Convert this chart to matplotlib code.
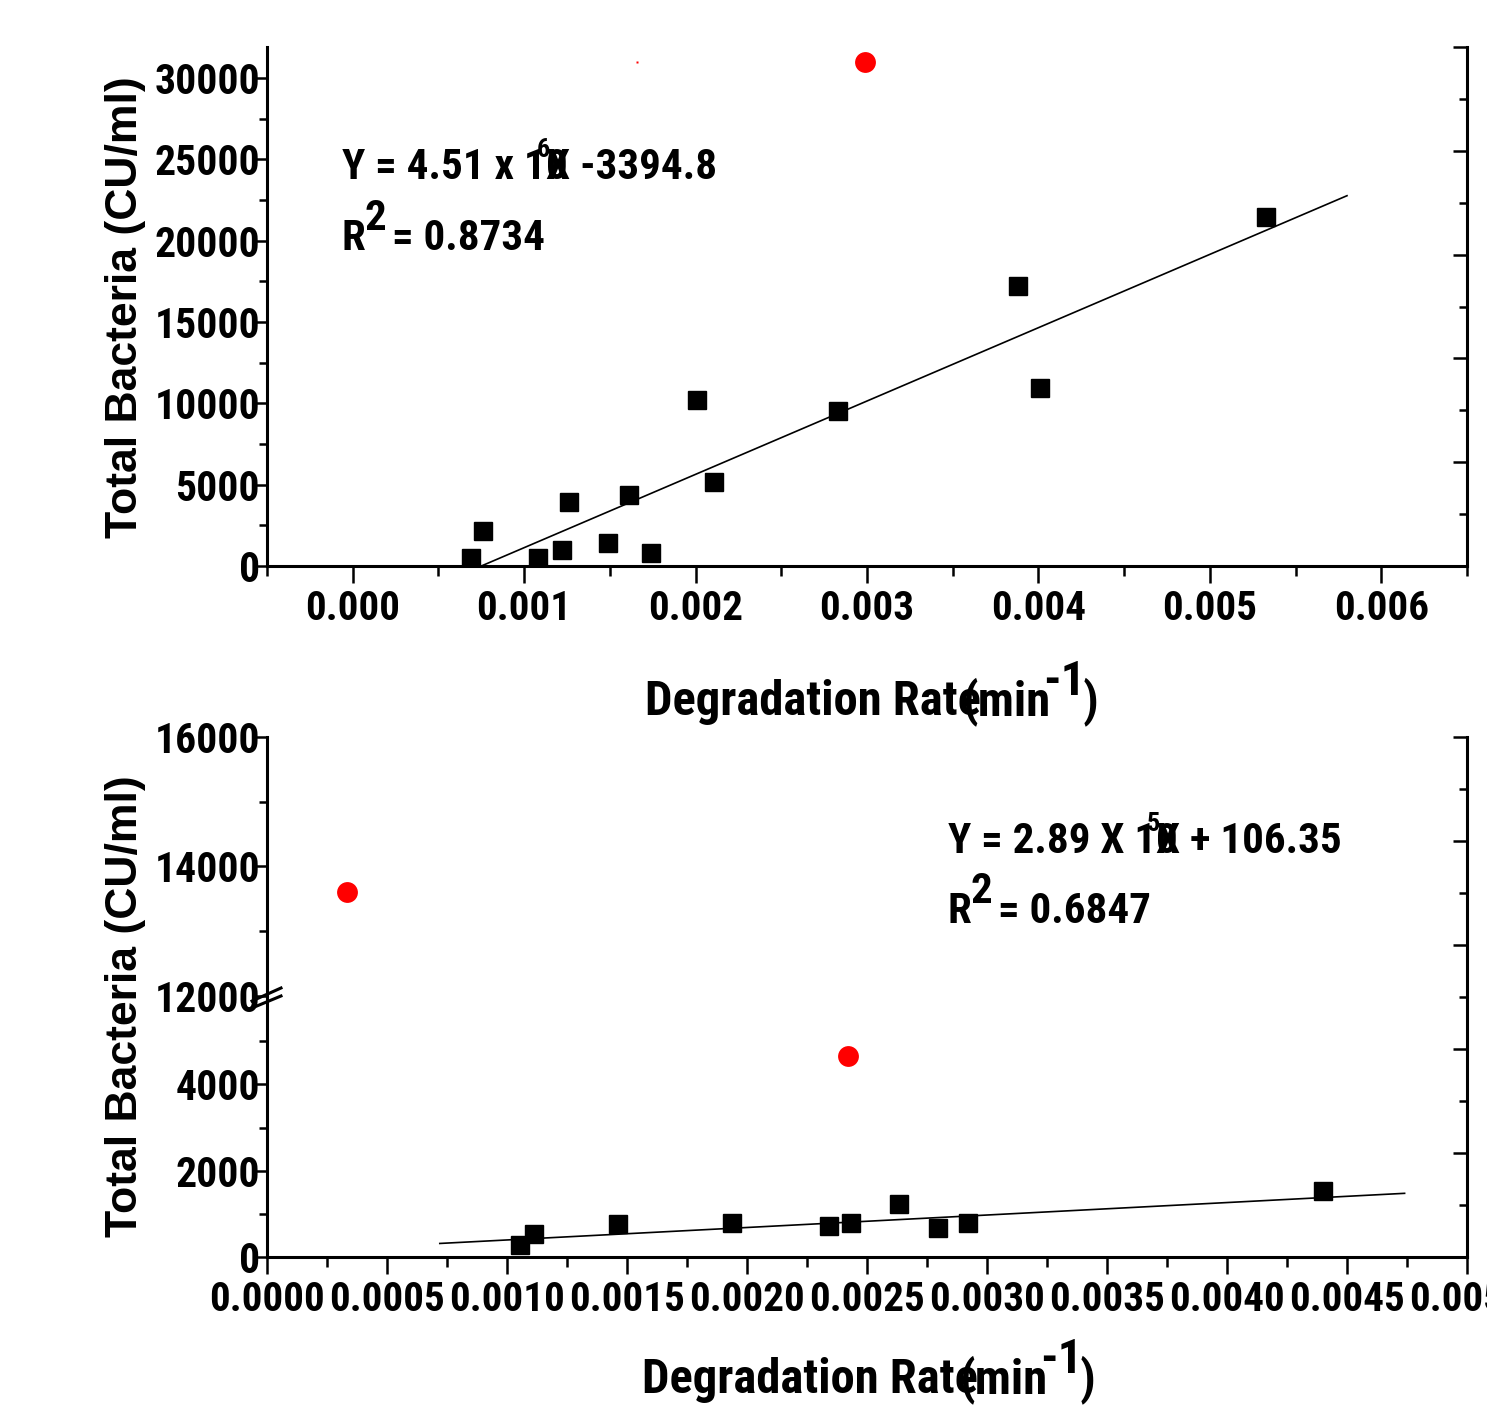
import matplotlib
matplotlib.use('Agg')
import matplotlib.pyplot as plt
from matplotlib.ticker import MultipleLocator, FixedLocator, NullFormatter
from matplotlib.lines import Line2D

W, H = 1487, 1411
DPI = 100
NARROW = ['Roboto Condensed', 'DejaVu Sans']
WIDE = ['Liberation Sans', 'DejaVu Sans']

plt.rcParams['font.family'] = NARROW
plt.rcParams['font.weight'] = 'bold'

# ---------------- data: top panel ----------------
top_x = [0.00069, 0.00076, 0.00108, 0.00122, 0.00126, 0.00149, 0.00161,
         0.00174, 0.00201, 0.00211, 0.00283, 0.00388, 0.00401, 0.00533]
top_y = [490, 2150, 490, 980, 3930, 1410, 4360,
         800, 10200, 5160, 9530, 17210, 10940, 21450]
top_out_x = [0.00299]
top_out_y = [30980]
top_spot_x = [0.00166]
top_spot_y = [30980]
top_fit_x = [0.00075, 0.0058]
top_fit_y = [0, 22760]
top_xticks = [0.000, 0.001, 0.002, 0.003, 0.004, 0.005, 0.006]
top_xlabels = ['0.000', '0.001', '0.002', '0.003', '0.004', '0.005', '0.006']
top_yticks = [0, 5000, 10000, 15000, 20000, 25000, 30000]

# ---------------- data: bottom panel ----------------
bot_x = [0.001054, 0.001113, 0.001463, 0.001938, 0.002342, 0.002433,
         0.002633, 0.002796, 0.002921, 0.00440]
bot_y = [280, 535, 765, 790, 720, 790, 1230, 675, 790, 1535]
bot_out_hi_x = [0.000333]
bot_out_hi_y = [13600]
bot_out_lo_x = [0.00242]
bot_out_lo_y = [4670]
bot_fit_x = [0.00072, 0.00474]
bot_fit_y = [314, 1476]
bot_xticks = [0.0000, 0.0005, 0.0010, 0.0015, 0.0020, 0.0025,
              0.0030, 0.0035, 0.0040, 0.0045, 0.0050]
bot_xlabels = ['0.0000', '0.0005', '0.0010', '0.0015', '0.0020', '0.0025',
               '0.0030', '0.0035', '0.0040', '0.0045', '0.0050']
bot_yticks_hi = [12000, 14000, 16000]
bot_yticks_lo = [0, 2000, 4000]

fig = plt.figure(figsize=(W / DPI, H / DPI), dpi=DPI)
renderer = fig.canvas.get_renderer()


def rect(x0, y0, x1, y1):
    return [x0 / W, 1 - y1 / H, (x1 - x0) / W, (y1 - y0) / H]


LW = 2.2
XTS = 29.5
YTS = 30
TS = 31


def base_style(ax):
    ax.set_facecolor('none')
    for s in ('top', 'right'):
        ax.spines[s].set_visible(False)
    for s in ('left', 'bottom'):
        ax.spines[s].set_linewidth(LW)
    ax.tick_params(axis='x', which='major', direction='out', length=12,
                   width=1.8, pad=5, labelsize=XTS)
    ax.tick_params(axis='x', which='minor', direction='out', length=7,
                   width=1.8)
    ax.tick_params(axis='y', which='major', direction='out', length=10,
                   width=1.8, pad=-5, labelsize=YTS)
    ax.tick_params(axis='y', which='minor', direction='out', length=6,
                   width=1.8)


def right_overlay(r):
    a = fig.add_axes(r)
    a.set_facecolor('none')
    for s in ('top', 'left', 'bottom'):
        a.spines[s].set_visible(False)
    a.spines['right'].set_linewidth(LW)
    a.set_xticks([])
    a.set_ylim(0, 10)
    a.yaxis.tick_right()
    a.yaxis.set_major_locator(MultipleLocator(2))
    a.yaxis.set_minor_locator(MultipleLocator(1))
    a.yaxis.set_major_formatter(NullFormatter())
    a.tick_params(axis='y', which='major', direction='in', length=10, width=1.8)
    a.tick_params(axis='y', which='minor', direction='in', length=6, width=1.8)
    return a


# ---------------- top panel ----------------
ax1 = fig.add_axes(rect(267, 47, 1467, 566))
base_style(ax1)
ax1.set_xlim(-0.0005, 0.0065)
ax1.set_ylim(0, 31900)
ax1.set_xticks(top_xticks)
ax1.set_xticklabels(top_xlabels)
ax1.xaxis.set_minor_locator(MultipleLocator(0.0005))
ax1.set_yticks(top_yticks)
ax1.set_yticklabels([str(v) for v in top_yticks])
ax1.yaxis.set_minor_locator(MultipleLocator(2500))
ax1.plot(top_fit_x, top_fit_y, color='black', lw=1.2, zorder=2)
ax1.plot(top_x, top_y, 's', color='black', ms=13.5, zorder=3)
ax1.plot(top_out_x, top_out_y, 'o', color='#ff0000', ms=15, mec='none',
         zorder=3, clip_on=False)
ax1.plot(top_spot_x, top_spot_y, 's', color='#ff0000', ms=2, mec='none',
         zorder=3, clip_on=False)
right_overlay(rect(267, 47, 1467, 566))

# ---------------- bottom panel (broken y axis) ----------------
ax_hi = fig.add_axes(rect(267, 737, 1467, 996))
ax_lo = fig.add_axes(rect(267, 996, 1467, 1257))
for a in (ax_hi, ax_lo):
    base_style(a)
    a.set_xlim(0, 0.005)
ax_hi.spines['bottom'].set_visible(False)
ax_hi.tick_params(axis='x', which='both', bottom=False, labelbottom=False)
ax_hi.set_ylim(12000, 16000)
ax_hi.yaxis.set_major_locator(FixedLocator(bot_yticks_hi))
ax_hi.set_yticklabels([str(v) for v in bot_yticks_hi])
ax_hi.yaxis.set_minor_locator(FixedLocator([13000, 15000]))

ax_lo.set_ylim(0, 6050)
ax_lo.yaxis.set_major_locator(FixedLocator(bot_yticks_lo))
ax_lo.set_yticklabels([str(v) for v in bot_yticks_lo])
ax_lo.yaxis.set_minor_locator(FixedLocator([1000, 3000, 5000]))
ax_lo.set_xticks(bot_xticks)
ax_lo.set_xticklabels(bot_xlabels)
ax_lo.xaxis.set_minor_locator(MultipleLocator(0.00025))

ax_lo.plot(bot_fit_x, bot_fit_y, color='black', lw=1.2, zorder=2)
ax_lo.plot(bot_x, bot_y, 's', color='black', ms=13.5, zorder=3)
ax_lo.plot(bot_out_lo_x, bot_out_lo_y, 'o', color='#ff0000', ms=15,
           mec='none', zorder=3)
ax_hi.plot(bot_out_hi_x, bot_out_hi_y, 'o', color='#ff0000', ms=15,
           mec='none', zorder=3)
right_overlay(rect(267, 737, 1467, 1257))

# break marks on the left spine
for (x0, y0, x1, y1) in [(252, 1001, 281, 988), (252, 1008, 281, 996)]:
    fig.add_artist(Line2D([x0 / W, x1 / W], [1 - y0 / H, 1 - y1 / H],
                          transform=fig.transFigure, color='black', lw=2.2))


# ---------------- text ----------------
def ptext(px, py, s, size=TS, family=NARROW, **kw):
    return fig.text(px / W, 1 - py / H, s, fontsize=size, family=family,
                    fontweight='bold', ha='left', va='baseline', **kw)


def right_px(t):
    return t.get_window_extent(renderer=renderer).x1


def equation(px, py, head, tail, sup):
    t = ptext(px, py, head)
    xe = right_px(t)
    ptext(xe, py, '0')
    ptext(xe, py, tail)
    ptext(xe - 9, py - 22, sup, size=19)


def rsq(px, py, value):
    t = ptext(px, py, 'R')
    xe = right_px(t)
    t2 = ptext(xe - 1, py - 20, '2')
    xe2 = right_px(t2)
    ptext(xe2 + 6, py, '= ' + value)


equation(342, 179, 'Y = 4.51 x 1', 'X -3394.8', '6')
rsq(342, 250, '0.8734')
equation(948, 853, 'Y = 2.89 X 1', 'X + 106.35', '5')
rsq(948, 923, '0.6847')


def xlabel(px, py):
    ptext(px, py, 'Degradation Rate', size=35)
    ptext(px + 317, py, '(min', size=35)
    ptext(px + 398, py - 20, '-1', size=35)
    ptext(px + 438, py, ')', size=35)


xlabel(645, 715)
xlabel(642, 1393)

for cy in (307, 1006):
    fig.text(125 / W, 1 - cy / H, 'Total Bacteria (CU/ml)', rotation=90,
             fontsize=32, family=WIDE, fontweight='bold',
             ha='center', va='center')

fig.savefig('out.png', dpi=DPI)
